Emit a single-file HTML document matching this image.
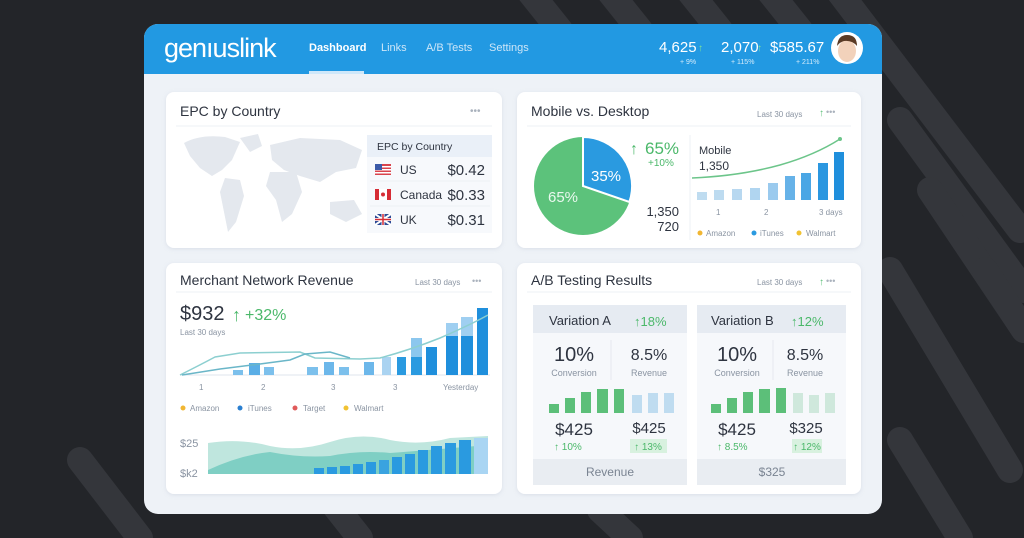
<!DOCTYPE html>
<html><head><meta charset="utf-8"><style>
html,body{margin:0;padding:0;background:#232529;}
svg{display:block}
text{font-family:"Liberation Sans",sans-serif;}
</style></head><body>
<svg width="1024" height="538" viewBox="0 0 1024 538" xmlns="http://www.w3.org/2000/svg">
<defs>
<filter id="sh" x="-5%" y="-5%" width="110%" height="110%"><feDropShadow dx="0" dy="1" stdDeviation="2" flood-color="#9aa6b8" flood-opacity="0.25"/></filter>
<clipPath id="card"><rect x="144" y="24" width="738" height="490" rx="14"/></clipPath>
</defs>
<rect width="1024" height="538" fill="#232529"/>
<g stroke="#34363b" stroke-width="26" stroke-linecap="round">
<line x1="520" y1="-20" x2="560" y2="30"/><line x1="600" y1="-20" x2="640" y2="30"/>
<line x1="680" y1="-20" x2="720" y2="30"/><line x1="760" y1="-20" x2="800" y2="30"/>
<line x1="830" y1="-20" x2="1020" y2="230"/><line x1="900" y1="120" x2="1024" y2="290"/>
<line x1="930" y1="190" x2="1024" y2="330"/><line x1="890" y1="270" x2="1010" y2="470"/>
<line x1="985" y1="270" x2="1024" y2="330"/><line x1="900" y1="440" x2="960" y2="538"/>
<line x1="80" y1="460" x2="140" y2="538"/><line x1="330" y1="500" x2="360" y2="538"/>
<line x1="600" y1="510" x2="630" y2="538"/>
</g>
<g clip-path="url(#card)">
<rect x="144" y="24" width="738" height="490" fill="#eef2f7"/>
<rect x="144" y="24" width="738" height="50" fill="#2299e2"/>
</g>
<text x="164" y="57" font-size="27" fill="#fff" letter-spacing="-1">genıuslink</text>
<text x="309" y="51" font-size="11" fill="#fff" font-weight="bold">Dashboard</text>
<rect x="309" y="71" width="55" height="3" fill="#cfe8fa"/>
<text x="381" y="51" font-size="11" fill="#cde6f8">Links</text>
<text x="426" y="51" font-size="11" fill="#cde6f8">A/B Tests</text>
<text x="489" y="51" font-size="11" fill="#cde6f8">Settings</text>
<text x="659" y="52" font-size="15" fill="#fff">4,625</text>
<text x="698" y="51" font-size="10" fill="#7de39a">↑</text>
<text x="721" y="52" font-size="15" fill="#fff">2,070</text>
<text x="757" y="51" font-size="10" fill="#7de39a">↑</text>
<text x="770" y="52" font-size="15" fill="#fff">$585.67</text>
<text x="680" y="64" font-size="7" fill="#d5ecfb">+ 9%</text>
<text x="731" y="64" font-size="7" fill="#d5ecfb">+ 115%</text>
<text x="796" y="64" font-size="7" fill="#d5ecfb">+ 211%</text>
<circle cx="847" cy="48" r="16" fill="#fff"/>
<ellipse cx="847" cy="51" rx="9" ry="11" fill="#f2d2bb"/>
<path d="M837 46 Q838 35 847 35 Q857 35 857 46 Q852 40 844 41 Q840 42 837 46Z" fill="#5a3b26"/>

<!-- panels -->
<g filter="url(#sh)" fill="#fff">
<rect x="166" y="92" width="336" height="156" rx="8"/>
<rect x="517" y="92" width="344" height="156" rx="8"/>
<rect x="166" y="263" width="336" height="231" rx="8"/>
<rect x="517" y="263" width="344" height="231" rx="8"/>
</g>
<g stroke="#eef1f5"><line x1="176" y1="126" x2="492" y2="126"/><line x1="527" y1="126" x2="851" y2="126"/>
<line x1="176" y1="292" x2="492" y2="292"/><line x1="527" y1="292" x2="851" y2="292"/></g>

<!-- EPC -->
<text x="180" y="116" font-size="14" fill="#2e3440">EPC by Country</text>
<text x="470" y="114" font-size="10" fill="#aab2bd">•••</text>
<g fill="#e4e8ee">
<path d="M184 143 Q200 134 225 137 L240 142 L232 160 L222 170 L212 176 L200 168 L190 156Z"/>
<path d="M225 178 L240 180 L244 196 L236 222 L228 232 L224 212 L220 192Z"/>
<path d="M240 138 L258 134 L262 146 L250 152 Z"/>
<path d="M270 145 L300 138 L340 140 L362 150 L356 168 L336 172 L320 182 L300 176 L284 170 L272 160Z"/>
<path d="M270 172 L296 172 L302 192 L292 214 L282 222 L276 200 L266 186Z"/>
<path d="M330 202 L354 200 L362 214 L346 222 L330 214Z"/>
</g>
<rect x="367" y="135" width="125" height="98" fill="#f7f9fc"/>
<rect x="367" y="135" width="125" height="22" fill="#eaf0f8"/>
<text x="377" y="150" font-size="10.5" fill="#2e3440">EPC by Country</text>
<g stroke="#eef1f5"><line x1="370" y1="181" x2="490" y2="181"/><line x1="370" y1="206" x2="490" y2="206"/></g>
<!-- flags -->
<rect x="375" y="164" width="16" height="11" fill="#d9434c"/>
<g fill="#fff"><rect x="375" y="166" width="16" height="1.5"/><rect x="375" y="169" width="16" height="1.5"/><rect x="375" y="172" width="16" height="1.5"/></g>
<rect x="375" y="164" width="7" height="6" fill="#3b5aa8"/>
<rect x="375" y="189" width="16" height="11" fill="#fff"/><rect x="375" y="189" width="4" height="11" fill="#d62c35"/><rect x="387" y="189" width="4" height="11" fill="#d62c35"/><circle cx="383" cy="194.5" r="2" fill="#d62c35"/>
<rect x="375" y="214" width="16" height="11" fill="#2b4a95"/>
<path d="M375 214 L391 225 M391 214 L375 225" stroke="#fff" stroke-width="2"/>
<path d="M383 214 V225 M375 219.5 H391" stroke="#fff" stroke-width="3"/>
<path d="M383 214 V225 M375 219.5 H391" stroke="#d62c35" stroke-width="1.5"/>
<text x="400" y="174" font-size="12" fill="#2e3440">US</text>
<text x="400" y="199" font-size="12" fill="#2e3440">Canada</text>
<text x="400" y="224" font-size="12" fill="#2e3440">UK</text>
<g font-size="15" fill="#2e3440" text-anchor="end"><text x="485" y="175">$0.42</text><text x="485" y="200">$0.33</text><text x="485" y="225">$0.31</text></g>

<!-- Mobile vs Desktop -->
<text x="531" y="116" font-size="14" fill="#2e3440">Mobile vs. Desktop</text>
<text x="757" y="117" font-size="8" fill="#8a94a2">Last 30 days</text>
<text x="819" y="116" font-size="10" fill="#5cc07a">↑</text><text x="826" y="115" font-size="9" fill="#aab2bd">•••</text>
<circle cx="583" cy="186" r="49" fill="#5cc27b"/>
<path d="M583 186 L583 137 A49 49 0 0 1 629.4 202 Z" fill="#2a9ae0" stroke="#fff" stroke-width="2"/>
<text x="591" y="181" font-size="15" fill="#fff">35%</text>
<text x="548" y="202" font-size="15" fill="#e9f8ee">65%</text>
<text x="630" y="154" font-size="16" fill="#4bb86a">↑</text>
<text x="645" y="154" font-size="17" fill="#4bb86a">65%</text>
<text x="648" y="166" font-size="10" fill="#4bb86a">+10%</text>
<text x="679" y="216" font-size="13" fill="#2e3440" text-anchor="end">1,350</text>
<text x="679" y="231" font-size="13" fill="#2e3440" text-anchor="end">720</text>
<line x1="690" y1="135" x2="690" y2="240" stroke="#eef1f5"/>
<text x="699" y="154" font-size="11" fill="#2e3440">Mobile</text>
<text x="699" y="170" font-size="12" fill="#2e3440">1,350</text>
<g>
<rect x="697" y="192" width="10" height="8" fill="#bfdcf0"/>
<rect x="714" y="190" width="10" height="10" fill="#bddbf0"/>
<rect x="732" y="189" width="10" height="11" fill="#b8d8f0"/>
<rect x="750" y="188" width="10" height="12" fill="#b0d5f0"/>
<rect x="768" y="183" width="10" height="17" fill="#9acaee"/>
<rect x="785" y="176" width="10" height="24" fill="#66b2e8"/>
<rect x="801" y="173" width="10" height="27" fill="#4aa6e5"/>
<rect x="818" y="163" width="10" height="37" fill="#2b97e0"/>
<rect x="834" y="152" width="10" height="48" fill="#1f8fdc"/>
</g>
<path d="M692 178 Q740 176 780 165 Q815 155 840 139" fill="none" stroke="#6cc58a" stroke-width="1.5"/>
<circle cx="840" cy="139" r="2" fill="#6cc58a"/>
<g font-size="8" fill="#8a94a2"><text x="716" y="215">1</text><text x="764" y="215">2</text><text x="819" y="215">3 days</text></g>
<g font-size="8" fill="#8a94a2">
<circle cx="700" cy="233" r="2.5" fill="#f1b632"/><text x="706" y="236">Amazon</text>
<circle cx="754" cy="233" r="2.5" fill="#2a9ae0"/><text x="760" y="236">iTunes</text>
<circle cx="799" cy="233" r="2.5" fill="#f1c232"/><text x="806" y="236">Walmart</text>
</g>

<!-- Merchant -->
<text x="180" y="285" font-size="14" fill="#2e3440">Merchant Network Revenue</text>
<text x="415" y="285" font-size="8" fill="#8a94a2">Last 30 days</text>
<text x="472" y="284" font-size="9" fill="#aab2bd">•••</text>
<text x="180" y="320" font-size="20" fill="#2e3440">$932</text>
<text x="232" y="321" font-size="18" fill="#4bb86a">↑</text>
<text x="245" y="320" font-size="16" fill="#4bb86a">+32%</text>
<text x="180" y="335" font-size="8" fill="#8a94a2">Last 30 days</text>
<line x1="180" y1="375" x2="490" y2="375" stroke="#dfe5ec"/>
<g>
<rect x="233" y="370" width="10" height="5" fill="#7cc0ec"/>
<rect x="249" y="363" width="11" height="12" fill="#5aaee6"/>
<rect x="264" y="367" width="10" height="8" fill="#7cc0ec"/>
<rect x="307" y="367" width="11" height="8" fill="#7cc0ec"/>
<rect x="324" y="362" width="10" height="13" fill="#6cb7ea"/>
<rect x="339" y="367" width="10" height="8" fill="#7cc0ec"/>
<rect x="364" y="362" width="10" height="13" fill="#6cb7ea"/>
<rect x="382" y="357" width="9" height="18" fill="#aad3f1"/>
<rect x="397" y="357" width="9" height="18" fill="#2a9ae0"/>
<rect x="411" y="338" width="11" height="37" fill="#8cc7ee"/>
<rect x="411" y="357" width="11" height="18" fill="#2a9ae0"/>
<rect x="426" y="347" width="11" height="28" fill="#1f8fdc"/>
<rect x="446" y="323" width="12" height="52" fill="#9fcff1"/>
<rect x="446" y="336" width="12" height="39" fill="#1f8fdc"/>
<rect x="461" y="317" width="12" height="58" fill="#9fcff1"/>
<rect x="461" y="336" width="12" height="39" fill="#1f8fdc"/>
<rect x="477" y="308" width="11" height="67" fill="#1f8fdc"/>
</g>
<path d="M180 375 Q200 365 215 357 L240 353 L300 352 L315 358 L360 359 L380 358 Q410 350 440 338 Q470 325 488 315" fill="none" stroke="#8ccfd0" stroke-width="1.5"/>
<path d="M182 375 L220 369 L260 364 L290 360 L305 354 L330 352 L350 358" fill="none" stroke="#6ab6c8" stroke-width="1.5"/>
<g font-size="8" fill="#8a94a2"><text x="199" y="390">1</text><text x="261" y="390">2</text><text x="331" y="390">3</text><text x="393" y="390">3</text><text x="443" y="390">Yesterday</text></g>
<g font-size="8" fill="#8a94a2">
<circle cx="183" cy="408" r="2.5" fill="#f1b632"/><text x="190" y="411">Amazon</text>
<circle cx="240" cy="408" r="2.5" fill="#2a7fd0"/><text x="248" y="411">iTunes</text>
<circle cx="295" cy="408" r="2.5" fill="#e05a5a"/><text x="303" y="411">Target</text>
<circle cx="346" cy="408" r="2.5" fill="#f1c232"/><text x="354" y="411">Walmart</text>
</g>
<text x="180" y="447" font-size="11" fill="#8a94a2">$25</text>
<text x="180" y="477" font-size="11" fill="#8a94a2">$k2</text>
<path d="M208 443 Q240 438 270 446 Q300 452 330 442 Q360 432 390 440 Q420 446 450 438 L488 436 L488 474 L208 474Z" fill="#bfe6de"/>
<path d="M208 470 Q240 455 270 452 Q300 458 330 456 Q360 450 390 453 Q430 450 488 445 L488 474 L208 474Z" fill="#7fcfc4"/>
<g fill="#2a9ae0">
<rect x="314" y="468" width="10" height="6"/><rect x="327" y="467" width="10" height="7"/><rect x="340" y="466" width="10" height="8"/>
<rect x="353" y="464" width="10" height="10"/><rect x="366" y="462" width="10" height="12"/><rect x="379" y="460" width="10" height="14" fill="#3aa3e0"/>
<rect x="392" y="457" width="10" height="17"/><rect x="405" y="454" width="10" height="20"/><rect x="418" y="450" width="10" height="24"/>
<rect x="431" y="446" width="11" height="28"/><rect x="445" y="443" width="11" height="31"/><rect x="459" y="440" width="12" height="34"/>
<rect x="474" y="438" width="14" height="36" fill="#a9d5f3"/>
</g>

<!-- A/B -->
<text x="531" y="285" font-size="14" fill="#2e3440">A/B Testing Results</text>
<text x="757" y="285" font-size="8" fill="#8a94a2">Last 30 days</text>
<text x="819" y="285" font-size="10" fill="#5cc07a">↑</text><text x="826" y="284" font-size="9" fill="#aab2bd">•••</text>

<g>
<rect x="533" y="305" width="154" height="180" rx="4" fill="#f6f8fb"/>
<rect x="533" y="305" width="154" height="28" fill="#e6ebf2"/>
<rect x="533" y="459" width="154" height="26" fill="#e9edf2"/>
<text x="549" y="325" font-size="13" fill="#2e3440">Variation A</text>
<text x="634" y="326" font-size="13" fill="#4bb86a">↑18%</text>
<text x="574" y="361" font-size="20" fill="#2e3440" text-anchor="middle">10%</text>
<text x="574" y="376" font-size="9" fill="#8a94a2" text-anchor="middle">Conversion</text>
<text x="649" y="360" font-size="16" fill="#2e3440" text-anchor="middle">8.5%</text>
<text x="649" y="376" font-size="9" fill="#8a94a2" text-anchor="middle">Revenue</text>
<line x1="611" y1="340" x2="611" y2="380" stroke="#e5e9ef"/>
<g fill="#5cbf79"><rect x="549" y="404" width="10" height="9"/><rect x="565" y="398" width="10" height="15"/><rect x="581" y="392" width="10" height="21"/><rect x="597" y="389" width="11" height="24"/><rect x="614" y="389" width="10" height="24"/></g>
<g fill="#bfdcf0"><rect x="632" y="395" width="10" height="18"/><rect x="648" y="393" width="10" height="20"/><rect x="664" y="393" width="10" height="20"/></g>
<text x="574" y="435" font-size="17" fill="#2e3440" text-anchor="middle">$425</text>
<text x="649" y="433" font-size="15" fill="#2e3440" text-anchor="middle">$425</text>
<text x="554" y="450" font-size="10" fill="#4bb86a">↑ 10%</text>
<rect x="630" y="439" width="37" height="14" fill="#d8f1df"/>
<text x="648" y="450" font-size="10" fill="#4bb86a" text-anchor="middle">↑ 13%</text>
<text x="610" y="476" font-size="12" fill="#7a8492" text-anchor="middle">Revenue</text>
</g>
<g>
<rect x="697" y="305" width="149" height="180" rx="4" fill="#f6f8fb"/>
<rect x="697" y="305" width="149" height="28" fill="#e6ebf2"/>
<rect x="697" y="459" width="149" height="26" fill="#e9edf2"/>
<text x="711" y="325" font-size="13" fill="#2e3440">Variation B</text>
<text x="791" y="326" font-size="13" fill="#4bb86a">↑12%</text>
<text x="737" y="361" font-size="20" fill="#2e3440" text-anchor="middle">10%</text>
<text x="737" y="376" font-size="9" fill="#8a94a2" text-anchor="middle">Conversion</text>
<text x="805" y="360" font-size="16" fill="#2e3440" text-anchor="middle">8.5%</text>
<text x="805" y="376" font-size="9" fill="#8a94a2" text-anchor="middle">Revenue</text>
<line x1="773" y1="340" x2="773" y2="380" stroke="#e5e9ef"/>
<g fill="#5cbf79"><rect x="711" y="404" width="10" height="9"/><rect x="727" y="398" width="10" height="15"/><rect x="743" y="392" width="10" height="21"/><rect x="759" y="389" width="11" height="24"/><rect x="776" y="388" width="10" height="25"/></g>
<g fill="#cfe8dc"><rect x="793" y="393" width="10" height="20"/><rect x="809" y="395" width="10" height="18"/><rect x="825" y="393" width="10" height="20"/></g>
<text x="737" y="435" font-size="17" fill="#2e3440" text-anchor="middle">$425</text>
<text x="806" y="433" font-size="15" fill="#2e3440" text-anchor="middle">$325</text>
<text x="717" y="450" font-size="10" fill="#4bb86a">↑ 8.5%</text>
<rect x="792" y="439" width="30" height="14" fill="#d8f1df"/>
<text x="807" y="450" font-size="10" fill="#4bb86a" text-anchor="middle">↑ 12%</text>
<text x="772" y="476" font-size="12" fill="#7a8492" text-anchor="middle">$325</text>
</g>
</svg>
</body></html>
